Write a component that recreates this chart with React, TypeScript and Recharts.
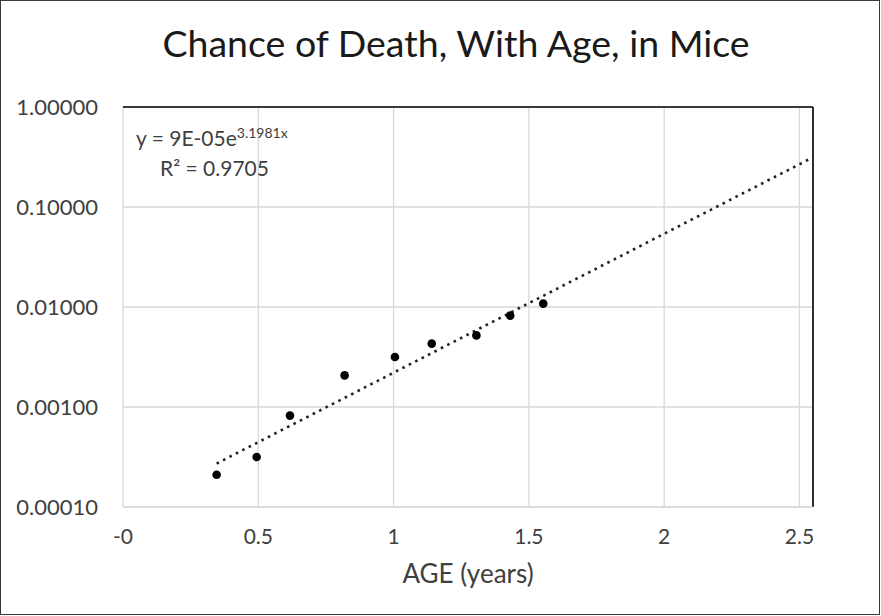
import { CartesianGrid, ReferenceLine, Scatter, ScatterChart, XAxis, YAxis } from "recharts";

const ages = [0.346, 0.494, 0.617, 0.819, 1.005, 1.141, 1.306, 1.431, 1.553];
const deathChance = [0.00021, 0.000316, 0.00082, 0.00207, 0.00316, 0.0043, 0.0052, 0.0082, 0.0108];

// exponential trendline y = 9E-05e^3.1981x, endpoints (straight on log axis)
const trendAges = [0.346, 2.55];
const trendChance = [0.000272, 0.314];

const xTicks = [0, 0.5, 1, 1.5, 2, 2.5];
const yTicks = [0.0001, 0.001, 0.01, 0.1, 1];

const points = ages.map((x, i) => ({ x, y: deathChance[i] }));
const trend = trendAges.map((x, i) => ({ x, y: trendChance[i] }));

const FONT = "Lato, 'Noto Sans', sans-serif";
const TEXT = "#404040";

const Dot = (props: any) => <circle cx={props.cx} cy={props.cy} r={4.3} fill="#000" />;

export default function App() {
	return (
		<div
			style={{
				position: "absolute",
				left: 0,
				top: 0,
				width: 881,
				height: 616,
				background: "#fff",
				fontFamily: FONT,
			}}
		>
			<div
				style={{
					position: "absolute",
					left: 0,
					top: 0,
					width: 880,
					height: 615,
					border: "1.5px solid #3a3a3a",
					boxSizing: "border-box",
				}}
			/>
			<div
				style={{
					position: "absolute",
					left: 0,
					top: 19,
					width: 912,
					textAlign: "center",
					fontSize: 37.5,
					color: "#1a1a1a",
					lineHeight: "48px",
					whiteSpace: "nowrap",
				}}
			>
				Chance of Death, With Age, in Mice
			</div>
			<ScatterChart width={881} height={616} margin={{ top: 107, right: 68, bottom: 50, left: 23 }}>
				<CartesianGrid stroke="#d9d9d9" strokeWidth={1.3} />
				<XAxis
					type="number"
					dataKey="x"
					domain={[0, 2.55]}
					ticks={xTicks}
					allowDataOverflow
					height={59}
					tickSize={0}
					tickMargin={22}
					tickFormatter={(v: number) => (v === 0 ? "-0" : String(v))}
					tick={{ fill: TEXT, fontSize: 21, fontFamily: FONT }}
					axisLine={{ stroke: "#d9d9d9", strokeWidth: 1.3 }}
				/>
				<YAxis
					type="number"
					dataKey="y"
					scale="log"
					domain={[0.0001, 1]}
					ticks={yTicks}
					allowDataOverflow
					width={100}
					tickSize={0}
					tickMargin={25}
					axisLine={false}
					tickFormatter={(v: number) => v.toFixed(5)}
					tick={{ fill: TEXT, fontSize: 22, fontFamily: FONT }}
				/>
				<ReferenceLine y={1} stroke="#000" strokeWidth={1.6} />
				<ReferenceLine x={2.55} stroke="#000" strokeWidth={1.6} />
				<Scatter
					data={trend}
					line={{ stroke: "#222", strokeWidth: 2.6, strokeDasharray: "2.6 4.6" }}
					shape={() => null}
					isAnimationActive={false}
				/>
				<Scatter data={points} shape={Dot} isAnimationActive={false} />
			</ScatterChart>
			<div
				style={{
					position: "absolute",
					left: 123,
					top: 557,
					width: 690,
					textAlign: "center",
					fontSize: 26,
					color: TEXT,
					lineHeight: "32px",
				}}
			>
				AGE (years)
			</div>
			<div
				style={{
					position: "absolute",
					left: 136,
					top: 120,
					fontSize: 21,
					color: TEXT,
					lineHeight: "26px",
					whiteSpace: "nowrap",
				}}
			>
				y = 9E-05e<sup style={{ fontSize: 14, verticalAlign: "8px" }}>3.1981x</sup>
			</div>
			<div
				style={{
					position: "absolute",
					left: 160,
					top: 154,
					fontSize: 21,
					color: TEXT,
					lineHeight: "28px",
					whiteSpace: "nowrap",
				}}
			>
				R² = 0.9705
			</div>
		</div>
	);
}
